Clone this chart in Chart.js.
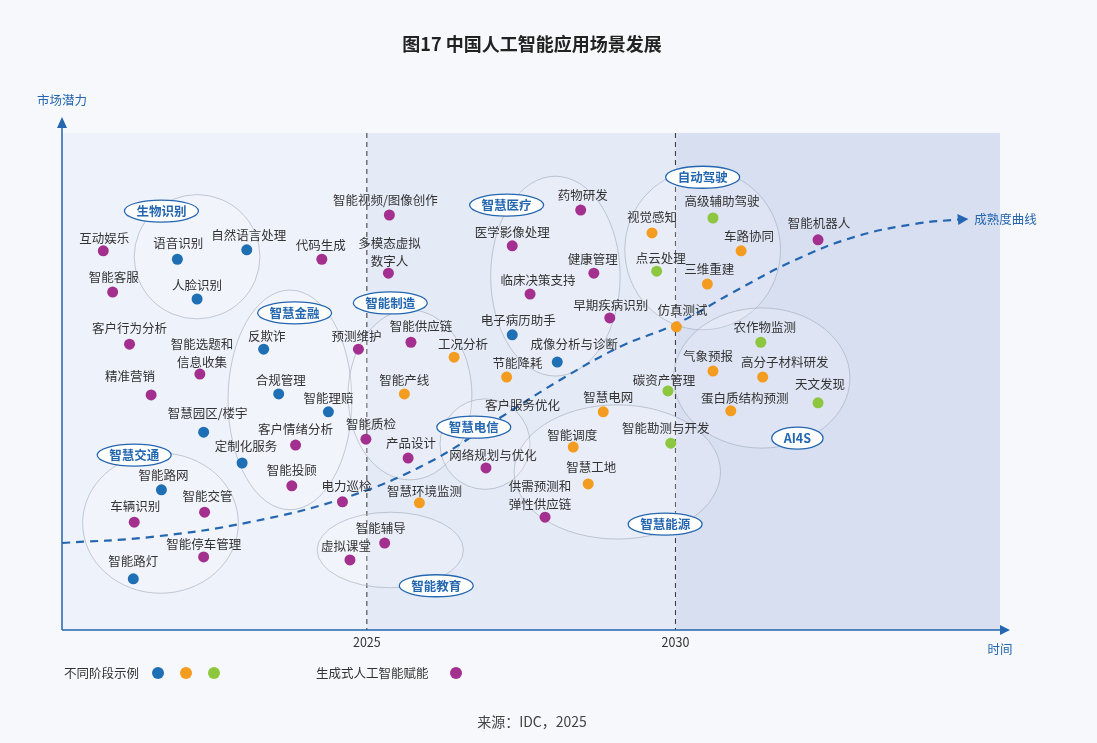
<!DOCTYPE html>
<html lang="zh-CN">
<head>
<meta charset="UTF-8">
<title>图17 中国人工智能应用场景发展</title>
<style>
  body { margin: 0; background: #f7f8fb; font-family: "Noto Sans CJK SC", "Noto Sans", sans-serif; }
  #wrap { width: 1097px; height: 743px; position: relative; }
</style>
</head>
<body>
<div id="wrap"><canvas id="c" width="1097" height="743"></canvas></div>
<script src="https://cdn.jsdelivr.net/npm/chart.js"></script>
<script>
// 应用场景（x: 时间 0-100，y: 市场潜力 0-100）
const names = ['互动娱乐','语音识别','自然语言处理','智能客服','人脸识别','代码生成','智能视频/图像创作','多模态虚拟\n数字人',
  '客户行为分析','反欺诈','智能选题和\n信息收集','预测维护','智能供应链','工况分析','精准营销','合规管理','智能理赔','智能产线',
  '智慧园区/楼宇','客户情绪分析','智能质检','产品设计','定制化服务','智能投顾','智能路网','智能交管','车辆识别','智能停车管理',
  '智能路灯','电力巡检','智慧环境监测','智能辅导','虚拟课堂','医学影像处理','药物研发','健康管理','临床决策支持','电子病历助手',
  '早期疾病识别','成像分析与诊断','节能降耗','客户服务优化','智慧电网','智能调度','网络规划与优化','智慧工地','供需预测和\n弹性供应链',
  '视觉感知','高级辅助驾驶','车路协同','点云处理','三维重建','仿真测试','智能机器人','农作物监测','气象预报','高分子材料研发',
  '碳资产管理','天文发现','蛋白质结构预测','智能勘测与开发'];
const xs = [4.4,12.3,19.7,5.4,14.4,27.7,34.9,34.8, 7.2,21.5,14.7,31.6,37.2,41.8,9.5,23.1,28.4,36.5,
  15.1,24.9,32.4,36.9,19.2,24.5,10.6,15.2,7.7,15.1, 7.6,29.9,38.1,34.4,30.7,48.0,55.3,56.7,49.9,48.0,
  58.4,52.8,47.4,49.1,57.7,54.5,45.2,56.1,51.5, 62.9,69.4,72.4,63.4,68.8,65.5,80.6,74.5,69.4,74.7,
  64.6,80.6,71.3,64.9];
const ys = [76.3,74.6,76.5,68.0,66.6,74.6,83.5,71.8, 57.5,56.5,51.5,56.5,57.9,54.9,47.3,47.5,43.9,47.5,
  39.8,37.2,38.4,34.6,33.6,29.0,28.2,23.7,21.7,14.7, 10.3,25.8,25.6,17.5,14.1,77.3,84.5,71.8,67.6,59.4,
  62.8,53.9,50.9,45.3,43.9,36.8,32.6,29.4,22.7, 79.9,82.9,76.3,72.2,69.6,61.0,78.5,57.9,52.1,50.9,
  48.1,45.7,44.1,37.6];
// 类型: b=蓝 o=橙 g=绿 p=生成式AI赋能 n=无点
const kinds = ['p','b','b','p','b','p','p','p',
  'p','b','p','p','p','o','p','b','b','o',
  'b','p','p','p','b','p','b','p','p','p',
  'b','p','o','p','p','p','p','p','p','b',
  'p','b','o','n','o','o','p','o','p',
  'o','g','o','g','o','o','p','g','o','o',
  'g','g','o','g'];
// 标签相对点的偏移（像素）
const labelDx = [1,1,2,1,0,-1,-4,1, 0,3,2,-2,10,9,-21,2,0,0, 4,0,5,3,4,0,2,3,1,0, 0,4,5,-4,-4,0,2,-1,8,6,
  1,17,11,0,5,-1,7,3,-5, 0,9,8,4,2,6,1,4,-5,22, -4,2,14,-5];
const labelDy = [-13,-16,-15,-15,-14,-14,-15,-21, -16,-13,-21,-13,-16,-13,-19,-14,-14,-14, -19,-16,-15,-15,-17,-16,-15,-16,-16,-13,
  -18,-16,-12,-15,-14,-14,-15,-14,-14,-15, -13,-18,-14,0,-15,-12,-13,-17,-22, -16,-17,-15,-13,-15,-17,-17,-15,-15,-15,
  -11,-19,-13,-15];

// 领域分组（椭圆）
const groups = ['生物识别','智慧金融','智能制造','智慧医疗','自动驾驶','智慧电信','智慧能源','AI4S','智慧交通','智能教育'];
const groupCx = [14.4,24.3,37.1,52.6,68.3,45.1,59.2,74.6,10.5,35.0];
const groupCy = [75.1,46.3,47.3,71.2,76.5,37.4,31.8,50.7,21.5,16.1];
const groupRx = [6.7,6.6,6.6,6.9,8.3,4.8,11.0,9.4,8.3,7.8];
const groupRy = [12.5,22.1,17.1,20.1,16.1,9.1,13.5,14.1,14.1,7.6];
const tagX = [10.6,24.8,35.0,47.4,68.3,43.9,64.3,78.4,7.7,39.9];
const tagY = [84.3,63.8,65.8,85.5,91.1,40.8,21.3,38.6,35.2,8.9];

// 成熟度曲线
const curveX = [0,9.4,20,30.5,39.2,46.7,53.1,59.5,65.5,71.4,78.1,84.5,90.9,96.2];
const curveY = [17.5,18.7,21.7,26.8,33.8,42.7,50.3,57.0,61.6,67.8,74.4,79.1,81.7,82.7];

const tickValues = [32.5, 65.4];
const tickLabels = ['2025', '2030'];
const eraBreaks = [0, 32.5, 65.4, 100];
const eraColors = ['#eef2fa', '#e4eaf6', '#d7dff1'];

const colorMap = { b: '#1f6fb5', o: '#f39c1f', g: '#8dc63f', p: '#a3308e', n: 'rgba(0,0,0,0)' };
const BLUE = '#2466b0';
const FONT = '"Noto Sans CJK SC", sans-serif';

const points = xs.map((x, i) => ({ x: x, y: ys[i] }));

const drawPlugin = {
  id: 'drawPlugin',
  beforeDatasetsDraw(chart) {
    const { ctx, chartArea: a, scales: { x, y } } = chart;
    ctx.save();
    // 阶段底色
    for (let i = 0; i < 3; i++) {
      ctx.fillStyle = eraColors[i];
      const l = x.getPixelForValue(eraBreaks[i]), r = x.getPixelForValue(eraBreaks[i + 1]);
      ctx.fillRect(l, a.top, r - l, a.bottom - a.top);
    }
    // 阶段虚线
    ctx.strokeStyle = '#333';
    ctx.lineWidth = 1;
    ctx.setLineDash([5, 4]);
    tickValues.forEach(v => {
      const px = x.getPixelForValue(v);
      ctx.beginPath(); ctx.moveTo(px, a.top); ctx.lineTo(px, a.bottom); ctx.stroke();
    });
    ctx.setLineDash([]);
    // 分组椭圆
    ctx.strokeStyle = 'rgba(160,170,185,0.6)';
    ctx.fillStyle = 'rgba(255,255,255,0.18)';
    groups.forEach((g, i) => {
      const cx = x.getPixelForValue(groupCx[i]), cy = y.getPixelForValue(groupCy[i]);
      const rx = x.getPixelForValue(groupCx[i] + groupRx[i]) - cx;
      const ry = cy - y.getPixelForValue(groupCy[i] + groupRy[i]);
      ctx.beginPath(); ctx.ellipse(cx, cy, rx, ry, 0, 0, Math.PI * 2); ctx.fill(); ctx.stroke();
    });
    // 坐标轴
    ctx.strokeStyle = BLUE; ctx.fillStyle = BLUE; ctx.lineWidth = 1.5;
    ctx.beginPath(); ctx.moveTo(a.left, a.bottom); ctx.lineTo(a.left, a.top - 8);
    ctx.moveTo(a.left, a.bottom); ctx.lineTo(a.right, a.bottom); ctx.stroke();
    ctx.beginPath(); ctx.moveTo(a.left, a.top - 16); ctx.lineTo(a.left - 5, a.top - 5); ctx.lineTo(a.left + 5, a.top - 5); ctx.fill();
    ctx.beginPath(); ctx.moveTo(a.right + 10, a.bottom); ctx.lineTo(a.right, a.bottom - 5); ctx.lineTo(a.right, a.bottom + 5); ctx.fill();
    ctx.restore();
  },
  afterDatasetsDraw(chart) {
    const { ctx, chartArea: a, scales: { x, y } } = chart;
    ctx.save();
    ctx.textAlign = 'center'; ctx.textBaseline = 'middle';
    // 场景标签
    ctx.font = '12.5px ' + FONT;
    ctx.fillStyle = '#333';
    names.forEach((n, i) => {
      const px = x.getPixelForValue(xs[i]) + labelDx[i], py = y.getPixelForValue(ys[i]) + labelDy[i];
      const lines = n.split('\n');
      lines.forEach((t, k) => ctx.fillText(t, px, py + (k - (lines.length - 1) / 2) * 18));
    });
    // 分组标签
    ctx.font = 'bold 12.5px ' + FONT;
    groups.forEach((g, i) => {
      const px = x.getPixelForValue(tagX[i]), py = y.getPixelForValue(tagY[i]);
      const w = ctx.measureText(g).width / 2 + 12;
      ctx.beginPath(); ctx.ellipse(px, py, w, 11, 0, 0, Math.PI * 2);
      ctx.fillStyle = '#fff'; ctx.fill();
      ctx.strokeStyle = BLUE; ctx.lineWidth = 1.3; ctx.stroke();
      ctx.fillStyle = BLUE; ctx.fillText(g, px, py);
    });
    // 曲线箭头和文字
    const n = curveX.length;
    const ex = x.getPixelForValue(curveX[n - 1]), ey = y.getPixelForValue(curveY[n - 1]);
    ctx.fillStyle = BLUE;
    ctx.beginPath(); ctx.moveTo(ex + 4, ey); ctx.lineTo(ex - 7, ey - 5); ctx.lineTo(ex - 6, ey + 6); ctx.fill();
    ctx.font = '12.5px ' + FONT; ctx.textAlign = 'left';
    ctx.fillText('成熟度曲线', ex + 10, ey);
    // 轴标签
    ctx.textAlign = 'center'; ctx.fillStyle = BLUE;
    ctx.fillText('市场潜力', a.left, a.top - 33);
    ctx.fillText('时间', a.right, a.bottom + 19);
    ctx.fillStyle = '#333';
    tickValues.forEach((v, i) => ctx.fillText(tickLabels[i], x.getPixelForValue(v), a.bottom + 12));
    // 图例
    ctx.textAlign = 'left'; ctx.font = '12.5px ' + FONT;
    ctx.fillText('不同阶段示例', 64, 673);
    ['b', 'o', 'g'].forEach((k, i) => {
      ctx.fillStyle = colorMap[k]; ctx.beginPath(); ctx.arc(158 + i * 28, 673, 6, 0, Math.PI * 2); ctx.fill();
    });
    ctx.fillStyle = '#333';
    ctx.fillText('生成式人工智能赋能', 316, 673);
    ctx.fillStyle = colorMap.p; ctx.beginPath(); ctx.arc(456, 673, 6, 0, Math.PI * 2); ctx.fill();
    // 标题与来源
    ctx.textAlign = 'center'; ctx.fillStyle = '#222';
    ctx.font = 'bold 18px ' + FONT;
    ctx.fillText('图17 中国人工智能应用场景发展', 532, 44);
    ctx.font = '14px ' + FONT; ctx.fillStyle = '#444';
    ctx.fillText('来源：IDC，2025', 532, 722);
    ctx.restore();
  }
};

new Chart(document.getElementById('c'), {
  type: 'scatter',
  data: {
    datasets: [
      {
        data: points,
        pointRadius: kinds.map(k => k === 'n' ? 0 : 5.5),
        pointBackgroundColor: kinds.map(k => colorMap[k]),
        pointBorderWidth: 0,
        order: 1
      },
      {
        type: 'line',
        data: curveX.map((v, i) => ({ x: v, y: curveY[i] })),
        borderColor: BLUE,
        borderWidth: 2.2,
        borderDash: [8, 6],
        pointRadius: 0,
        tension: 0.4,
        fill: false,
        order: 2
      }
    ]
  },
  options: {
    responsive: false,
    animation: false,
    layout: { padding: { left: 62, right: 97, top: 133, bottom: 113 } },
    plugins: { legend: { display: false }, tooltip: { enabled: false } },
    scales: {
      x: { type: 'linear', min: 0, max: 100, display: false },
      y: { type: 'linear', min: 0, max: 100, display: false }
    }
  },
  plugins: [drawPlugin]
});
</script>
</body>
</html>
